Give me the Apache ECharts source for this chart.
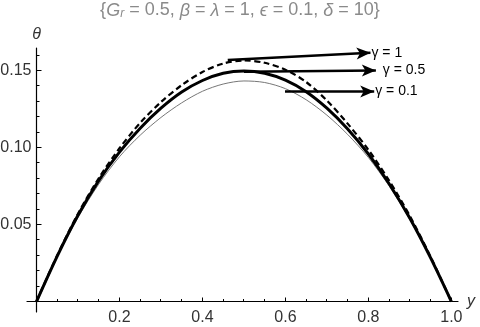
<!DOCTYPE html>
<html>
<head>
<meta charset="UTF-8">
<title>theta profiles</title>
<script src="https://cdn.jsdelivr.net/npm/echarts@6/dist/echarts.min.js"></script>
</head>
<body style="margin:0">
    <div id="main" style="width:480px;height:327px;"></div>
    <script type="text/javascript">
    // coordinate y across the channel
    var yVals = [0, 0.05, 0.1, 0.15, 0.2, 0.25, 0.3, 0.35, 0.4, 0.45, 0.5,
                 0.55, 0.6, 0.65, 0.7, 0.75, 0.8, 0.85, 0.9, 0.95, 1.0];
    // theta for gamma = 1 (dashed)
    var theta1 = [0, 0.030, 0.057, 0.080, 0.0995, 0.1160, 0.1295, 0.1405, 0.1490, 0.1545, 0.1565,
                  0.1550, 0.1505, 0.1425, 0.1305, 0.1155, 0.0985, 0.0785, 0.0555, 0.0290, 0];
    // theta for gamma = 0.5 (thick)
    var theta05 = [0, 0.0295, 0.056, 0.0785, 0.097, 0.1125, 0.1255, 0.1360, 0.1435, 0.1482, 0.1497,
                   0.1482, 0.1437, 0.1362, 0.1255, 0.1120, 0.0958, 0.0765, 0.0540, 0.0283, 0];
    // theta for gamma = 0.1 (thin grey)
    var theta01 = [0, 0.029, 0.0545, 0.0762, 0.094, 0.108, 0.1195, 0.129, 0.1365, 0.1412, 0.1432,
                   0.1422, 0.1382, 0.1310, 0.1210, 0.1085, 0.0935, 0.0750, 0.0532, 0.0279, 0];

    var xMajor = [0.2, 0.4, 0.6, 0.8, 1.0];
    var xMinor = [0.05, 0.1, 0.15, 0.25, 0.3, 0.35, 0.45, 0.5, 0.55, 0.65, 0.7, 0.75, 0.85, 0.9, 0.95];
    var yMajor = [0.05, 0.10, 0.15];
    var yMinor = [0.01, 0.02, 0.03, 0.04, 0.06, 0.07, 0.08, 0.09, 0.11, 0.12, 0.13, 0.14, 0.16];

    // arrow annotations: [from y, from theta, to y, to theta, text]
    var arrows = [
        [0.461, 0.1568, 0.805, 0.1615, 'γ = 1'],
        [0.500, 0.1492, 0.818, 0.1500, 'γ = 0.5'],
        [0.599, 0.1364, 0.814, 0.1364, 'γ = 0.1']
    ];

    function pairs(xs, ys) {
        return xs.map(function (x, i) { return [x, ys[i]]; });
    }

    var font = '"Liberation Sans", Arial, sans-serif';
    var xMin = -0.0229, xMax = 1.016, yMin = -0.0068, yMax = 0.1646;
    var gridW = 431, gridH = 264;
    // shift the axes from the grid edge onto the zero lines (Mathematica-style crossing axes)
    var xAxisOffset = -(0 - yMin) / (yMax - yMin) * gridH;
    var yAxisOffset = -(0 - xMin) / (xMax - xMin) * gridW;

    // tick marks drawn through the axes' scales; horizontal = along the x axis
    function tickSeries(values, onXAxis, len) {
        return {
            type: 'custom', silent: true, clip: false, z: 5,
            data: values.map(function (v) { return onXAxis ? [v, 0] : [0, v]; }),
            renderItem: function (params, api) {
                var p = api.coord([api.value(0), api.value(1)]);
                var x = Math.round(p[0] - 0.5) + 0.5, y = Math.round(p[1] - 0.5) + 0.5;
                return {
                    type: 'line',
                    shape: onXAxis ? { x1: x, y1: y, x2: x, y2: y - len }
                                   : { x1: x, y1: y, x2: x + len, y2: y },
                    style: { stroke: '#000', lineWidth: 1 }
                };
            }
        };
    }

    var myChart = echarts.init(document.getElementById('main'));
    var option = {
        animation: false,
        backgroundColor: '#fff',
        title: {
            left: 'center', top: 1, padding: 0,
            text: '{{i|G}{s|r}{n| = 0.5, }{i|β}{n| = }{i|λ}{n| = 1, }{i|ϵ}{n| = 0.1, }{i|δ}{n| = 10}}',
            textStyle: {
                color: '#8a8a8a', fontSize: 18, fontWeight: 'normal', fontFamily: font,
                rich: {
                    n: { color: '#8a8a8a', fontSize: 18, fontFamily: font },
                    i: { color: '#8a8a8a', fontSize: 18, fontStyle: 'italic', fontFamily: font },
                    s: { color: '#8a8a8a', fontSize: 12, fontStyle: 'italic', fontFamily: font, padding: [7, 0, 0, 0] }
                }
            }
        },
        grid: { left: 27, top: 48, width: gridW, height: gridH, outerBoundsMode: 'none', containLabel: false },
        xAxis: {
            type: 'value', min: xMin, max: xMax, position: 'bottom', offset: xAxisOffset,
            axisLine: { show: true, onZero: false, lineStyle: { color: '#000', width: 1.2 } },
            axisTick: { show: false },
            axisLabel: { show: true, customValues: xMajor, margin: 8, color: '#333', fontSize: 16, fontFamily: font,
                         formatter: function (v) { return v.toFixed(1); } },
            splitLine: { show: false },
            name: 'y', nameLocation: 'end', nameGap: 9,
            nameTextStyle: { fontStyle: 'italic', fontSize: 16, color: '#333', fontFamily: font, padding: [6, 0, 0, 0] }
        },
        yAxis: {
            type: 'value', min: yMin, max: yMax, position: 'left', offset: yAxisOffset,
            axisLine: { show: true, onZero: false, lineStyle: { color: '#000', width: 1.2 } },
            axisTick: { show: false },
            axisLabel: { show: true, customValues: yMajor, margin: 5, color: '#333', fontSize: 16, fontFamily: font,
                         formatter: function (v) { return v.toFixed(2); } },
            splitLine: { show: false },
            name: 'θ', nameLocation: 'end', nameGap: 5,
            nameTextStyle: { fontStyle: 'italic', fontSize: 16, color: '#333', fontFamily: font }
        },
        series: [
            tickSeries(xMajor, true, 4),
            tickSeries(xMinor, true, 2.5),
            tickSeries(yMajor, false, 5),
            tickSeries(yMinor, false, 3),
        {
            name: 'γ = 0.1', type: 'line', data: pairs(yVals, theta01),
            smooth: 0.3, showSymbol: false, z: 2,
            lineStyle: { color: '#777', width: 1 }
        }, {
            name: 'γ = 0.5', type: 'line', data: pairs(yVals, theta05),
            smooth: 0.3, showSymbol: false, z: 3,
            lineStyle: { color: '#000', width: 3 }
        }, {
            name: 'γ = 1', type: 'line', data: pairs(yVals, theta1),
            smooth: 0.3, showSymbol: false, z: 4,
            lineStyle: { color: '#000', width: 2.2, type: [6, 3.5] },
            markLine: {
                silent: true,
                symbol: ['none', 'arrow'],
                symbolSize: [9, 14],
                lineStyle: { color: '#000', width: 2.5, type: 'solid' },
                label: { show: true, position: 'end', color: '#000', fontSize: 14, fontFamily: font, distance: 2 },
                data: arrows.map(function (a) {
                    return [{ coord: [a[0], a[1]] },
                            { coord: [a[2], a[3]], label: { formatter: a[4], distance: a[4] === 'γ = 0.5' ? 7 : 1 } }];
                })
            }
        }]
    };
    myChart.setOption(option);
    </script>
</body>
</html>
